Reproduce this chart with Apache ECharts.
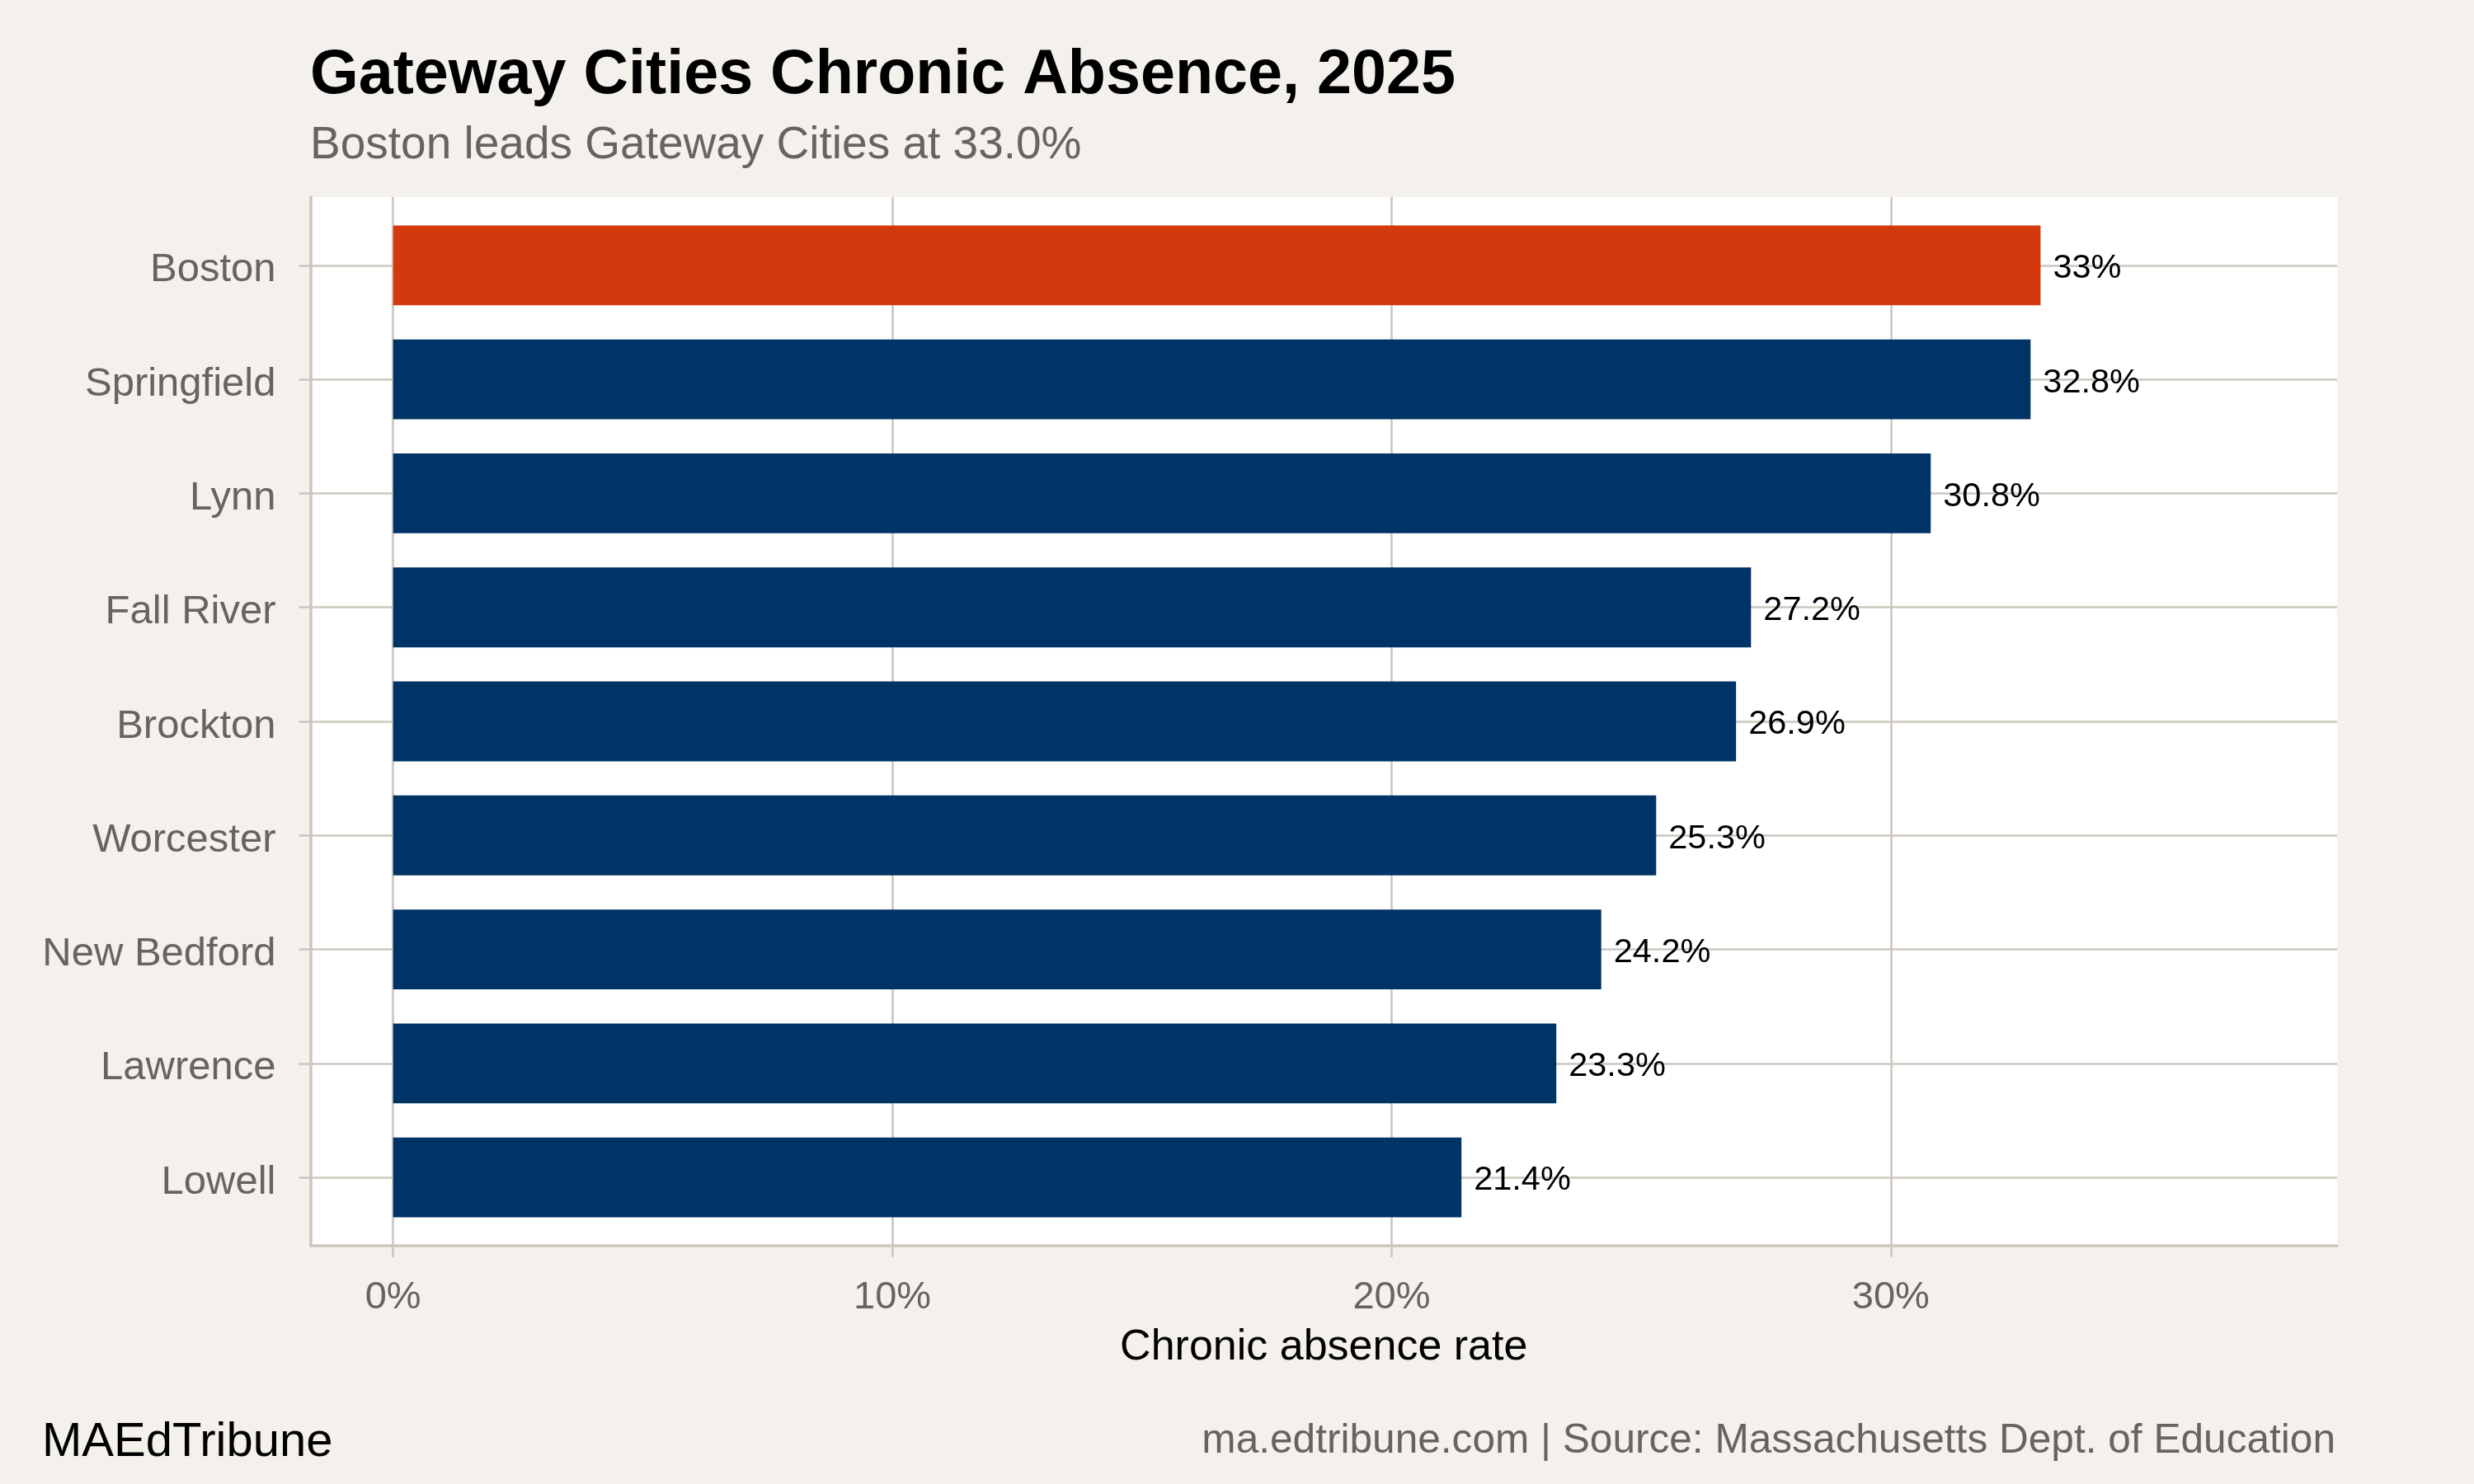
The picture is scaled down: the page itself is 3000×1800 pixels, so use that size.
<!DOCTYPE html>
<html>
<head>
<meta charset="utf-8">
<script src="https://cdn.jsdelivr.net/npm/echarts@6/dist/echarts.min.js"></script>
<style>
  html, body { margin: 0; padding: 0; background: #F4F1EC; }
  #chart { width: 3000px; height: 1800px; }
</style>
</head>
<body>
<div id="chart"></div>
<script>
// ---- data ----
const categories = ['Boston', 'Springfield', 'Lynn', 'Fall River', 'Brockton', 'Worcester', 'New Bedford', 'Lawrence', 'Lowell'];
const values = [33.0, 32.8, 30.8, 27.2, 26.9, 25.3, 24.2, 23.3, 21.4];
const xTicks = [0, 10, 20, 30];
const xTickLabels = ['0%', '10%', '20%', '30%'];
const highlightCity = 'Boston';

// ---- layout / style ----
const FONT = 'Liberation Sans, Arial, Helvetica, sans-serif';
const BG = '#F4F1EC';
const GRID_C = '#CCC6BE';
const GRAY = '#67635D';
const NAVY = '#003366';
const ORANGE = '#D4380D';

const W = 3000, H = 1800;
const panel = { left: 376.5, right: 166, top: 239, bottom: 289 };
const panelH = H - panel.top - panel.bottom;
const pad = 0.6;                         // discrete expansion (in bands)
const band = panelH / (categories.length - 1 + 2 * pad);
const inset = (pad - 0.5) * band;
const xMin = -1.655, xMax = 38.94;

function fmtPct(v) {
  const r = Math.round(v * 10) / 10;
  return (Math.round(r * 10) % 10 === 0 ? Math.round(r).toString() : r.toFixed(1)) + '%';
}

const chart = echarts.init(document.getElementById('chart'), null, { renderer: 'canvas' });

chart.setOption({
  animation: false,
  backgroundColor: BG,
  textStyle: { fontFamily: FONT },
  title: [
    {
      text: 'Gateway Cities Chronic Absence, 2025',
      left: 376, top: 54, padding: 0,
      textStyle: { fontSize: 75.5, fontWeight: 'bold', color: '#000000', fontFamily: FONT }
    },
    {
      text: 'Boston leads Gateway Cities at 33.0%',
      left: 376, top: 149, padding: 0,
      textStyle: { fontSize: 55, fontWeight: 'normal', color: GRAY, fontFamily: FONT }
    }
  ],
  grid: [
    { left: panel.left, right: panel.right, top: panel.top, bottom: panel.bottom,
      show: true, backgroundColor: '#FFFFFF', borderWidth: 0 },
    { left: panel.left, right: panel.right, top: panel.top + inset, bottom: panel.bottom + inset,
      show: false }
  ],
  xAxis: [
    {
      gridIndex: 0, type: 'value', min: xMin, max: xMax,
      axisLine: { show: true, onZero: false, lineStyle: { color: GRID_C, width: 3.5 } },
      axisTick: { show: true, customValues: xTicks, length: 14, lineStyle: { color: GRID_C, width: 2.6 } },
      axisLabel: {
        customValues: xTicks, margin: 40, fontSize: 47, color: GRAY, fontFamily: FONT,
        formatter: (v) => xTickLabels[xTicks.indexOf(v)]
      },
      splitLine: { show: true, lineStyle: { color: GRID_C, width: 2.6 } },
      name: 'Chronic absence rate', nameLocation: 'middle', nameGap: 98,
      nameTextStyle: { fontSize: 52, color: '#000000', fontFamily: FONT }
    },
    {
      gridIndex: 1, type: 'value', min: xMin, max: xMax, show: false
    }
  ],
  yAxis: [
    {
      gridIndex: 0, type: 'value', inverse: true,
      min: -pad, max: categories.length - 1 + pad,
      axisLine: { show: true, onZero: false, lineStyle: { color: GRID_C, width: 3.5 } },
      axisTick: { show: false, customValues: categories.map((_, i) => i) },
      axisLabel: { show: false, customValues: categories.map((_, i) => i) },
      splitLine: { show: true, lineStyle: { color: GRID_C, width: 2.6 } }
    },
    {
      gridIndex: 1, type: 'category', inverse: true, data: categories,
      axisLine: { show: false, onZero: false },
      axisTick: { show: true, alignWithLabel: true, length: 14, lineStyle: { color: GRID_C, width: 2.6 } },
      axisLabel: {
        interval: 0, margin: 42, fontSize: 49, color: GRAY, fontFamily: FONT,
        verticalAlign: 'top', lineHeight: 12
      },
      splitLine: { show: false }
    }
  ],
  series: [
    {
      type: 'bar',
      xAxisIndex: 1, yAxisIndex: 1,
      barWidth: '70%',
      data: values.map((v, i) => ({
        value: v,
        itemStyle: { color: categories[i] === highlightCity ? ORANGE : NAVY }
      })),
      label: {
        show: true, position: 'right', distance: 15,
        fontSize: 41.5, color: '#000000', fontFamily: FONT,
        verticalAlign: 'top', lineHeight: 8,
        formatter: (p) => fmtPct(p.value)
      }
    }
  ],
  graphic: [
    {
      type: 'text', left: 51, top: 1750 - 29,
      style: { text: 'MAEdTribune', fontSize: 58, fill: '#000000', fontFamily: FONT }
    },
    {
      type: 'text', right: W - 2832, top: 1748 - 25,
      style: { text: 'ma.edtribune.com | Source: Massachusetts Dept. of Education', fontSize: 49.6, fill: GRAY, fontFamily: FONT }
    }
  ]
});
</script>
</body>
</html>
